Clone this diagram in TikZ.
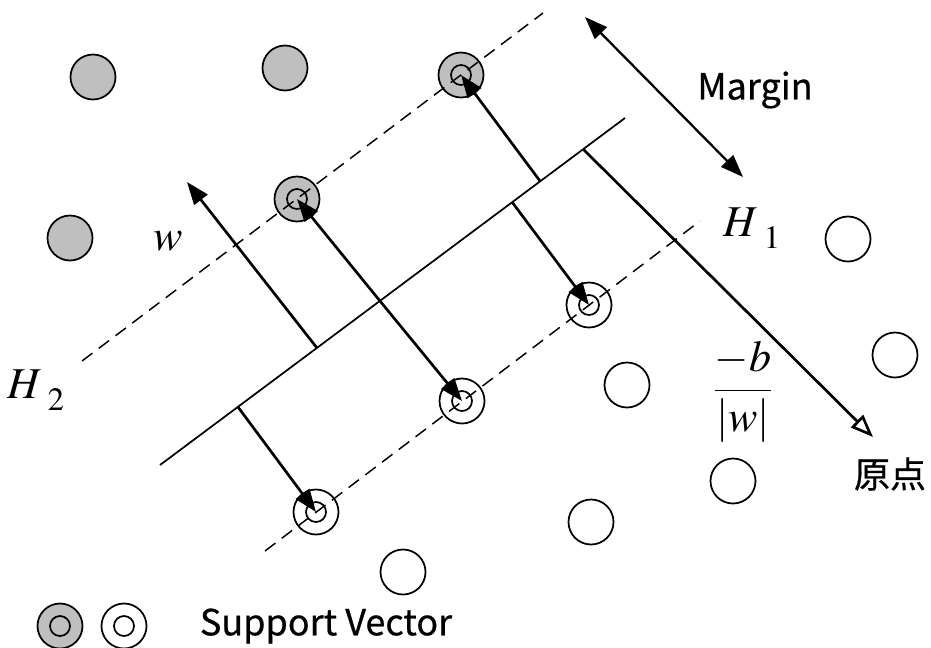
\documentclass[tikz,border=0pt]{standalone}
\usepackage{mathptmx}
\usepackage[no-math]{fontspec}
\newfontfamily\jpfont[FakeBold=0.6]{Noto Sans CJK JP}
\usepackage{tikz}
\usetikzlibrary{arrows.meta}

\begin{document}
\begin{tikzpicture}[x=0.75pt,y=-0.75pt,
dot/.style={circle,draw,line width=1.3pt,minimum size=33.75pt,inner sep=0pt},
grayPt/.style={dot,fill=black!25},
whitePt/.style={dot,fill=white},
sv/.style={path picture={\draw[line width=1.3pt](path picture bounding box.center) circle (7.5pt);}},
bound/.style={line width=1.1pt,dash pattern=on 9.75pt off 6pt},
vec/.style={line width=2pt,-{Triangle[length=17pt,width=12.5pt]}},
lbl/.style={font=\fontsize{33}{38}\selectfont},
jp/.style={font=\jpfont\fontsize{27}{32}\selectfont}]
\useasboundingbox (0,0) rectangle (931,647);
\node[grayPt](g1) at (93,77){};
\node[grayPt](g2) at (285,68){};
\node[grayPt](g3) at (70,238){};
\node[grayPt,sv](s1) at (297,199){};
\node[grayPt,sv](s2) at (461,75){};
\node[whitePt](w1) at (848,239){};
\node[whitePt](w2) at (895,355){};
\node[whitePt](w3) at (627,385){};
\node[whitePt](w4) at (733,481){};
\node[whitePt](w5) at (591,522){};
\node[whitePt](w6) at (403,572){};
\node[whitePt,sv](s3) at (316,512){};
\node[whitePt,sv](s4) at (462,401){};
\node[whitePt,sv](s5) at (589,305){};
\coordinate (a1) at (160,465);
\coordinate (a2) at (625,118);
\coordinate (b1) at (82,361);
\coordinate (b2) at (543,13);
\coordinate (c1) at (265,551);
\coordinate (c2) at (700,221);
\draw[line width=1.3pt](a1)--(a2);
\draw[bound](b1)--(b2);
\draw[bound](c1)--(c2);
\coordinate (j1) at (238,407);
\coordinate (j2) at (317,348);
\coordinate (j3) at (380,301);
\coordinate (j4) at (512,202);
\coordinate (j5) at (540,181);
\coordinate (j6) at (583,149);
\coordinate (wtip) at (187,182);
\coordinate (org) at (873,437);
\coordinate (m1) at (585,17);
\coordinate (m2) at (743,177);
\draw[vec](j1)--(s3.center);
\draw[vec](j2)--(wtip);
\draw[vec](j3)--(s1.center);
\draw[vec](j3)--(s4.center);
\draw[vec](j4)--(s5.center);
\draw[vec](j5)--(s2.center);
\draw[line width=2pt,-{Triangle[open,fill=white,length=17pt,width=13pt]}](j6)--(org);
\draw[line width=1.7pt,{Triangle[length=17pt,width=12.5pt]}-{Triangle[length=17pt,width=12.5pt]}](m1)--(m2);
\node[lbl](wl) at (168,241){$w$};
\node[lbl](h1) at (752,228){$H\hspace{4pt}\raisebox{-9pt}{$\scriptstyle 1$}$};
\node[lbl](h2) at (36,390){$H\hspace{4pt}\raisebox{-9pt}{$\scriptstyle 2$}$};
\node[lbl](bw) at (743,392){$\displaystyle\frac{-b}{|w|}$};
\node[jp](mg) at (755,90){Margin};
\node[jp](og) at (890,474){原点};
\node[grayPt,sv](l1) at (60,626){};
\node[whitePt,sv](l2) at (124,626){};
\node[jp](sl) at (326,626){Support Vector};
\end{tikzpicture}
\end{document}
